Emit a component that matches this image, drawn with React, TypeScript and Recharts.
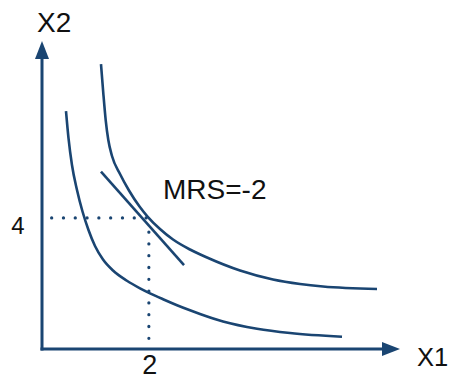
import React from 'react';
import { LineChart, Line, XAxis, YAxis, ReferenceLine, ReferenceDot } from 'recharts';

const NAVY = '#1a4572';
const TEXT = '#111111';
const FONT = '"Liberation Sans", Arial, sans-serif';

// Indifference curve through (2, 4)
const upperCurve = [
  { x: 1.104, y: 8.697 },
  { x: 1.147, y: 7.812 },
  { x: 1.192, y: 6.988 },
  { x: 1.241, y: 6.378 },
  { x: 1.31, y: 5.89 },
  { x: 1.46, y: 5.34 },
  { x: 1.628, y: 4.837 },
  { x: 1.825, y: 4.348 },
  { x: 1.975, y: 4.043 },
  { x: 2.208, y: 3.662 },
  { x: 2.452, y: 3.341 },
  { x: 2.77, y: 3.036 },
  { x: 3.088, y: 2.792 },
  { x: 3.706, y: 2.395 },
  { x: 4.323, y: 2.121 },
  { x: 4.829, y: 1.984 },
  { x: 5.259, y: 1.907 },
  { x: 6.27, y: 1.831 },
];

// Lower indifference curve
const lowerCurve = [
  { x: 0.449, y: 7.263 },
  { x: 0.496, y: 6.439 },
  { x: 0.561, y: 5.615 },
  { x: 0.655, y: 4.852 },
  { x: 0.758, y: 4.196 },
  { x: 0.87, y: 3.631 },
  { x: 0.992, y: 3.143 },
  { x: 1.142, y: 2.731 },
  { x: 1.329, y: 2.395 },
  { x: 1.582, y: 2.09 },
  { x: 1.834, y: 1.852 },
  { x: 2.021, y: 1.7 },
  { x: 2.265, y: 1.52 },
  { x: 2.527, y: 1.337 },
  { x: 2.77, y: 1.181 },
  { x: 2.957, y: 1.068 },
  { x: 3.388, y: 0.839 },
  { x: 4.024, y: 0.619 },
  { x: 4.642, y: 0.488 },
  { x: 5.615, y: 0.372 },
];

// Tangent line (MRS = -2)
const tangentLine = [
  { x: 1.104, y: 5.41 },
  { x: 2.658, y: 2.563 },
];

const guideH = [
  { x: 0.18, y: 4 },
  { x: 2, y: 4 },
];
const guideV = [
  { x: 2, y: 3.57 },
  { x: 2, y: 0.3 },
];

const xTicks = [2];
const yTicks = [4];
const xDomain: [number, number] = [0, 6.7];
const yDomain: [number, number] = [0, 9.4];
const xTitle = 'X1';
const yTitle = 'X2';
const mrsLabel = 'MRS=-2';
const mrsAt = { x: 2.265, y: 4.577 };

const xArrow = (p: any) => {
  const { x1, y1, x2 } = p;
  return (
    <g>
      <line x1={x1 - 1.5} y1={y1} x2={x2 - 17} y2={y1} stroke={NAVY} strokeWidth={3} />
      <polygon points={`${x2},${y1} ${x2 - 18},${y1 - 7} ${x2 - 18},${y1 + 7}`} fill={NAVY} />
    </g>
  );
};

const yArrow = (p: any) => {
  const { x1, y1, y2 } = p;
  return (
    <g>
      <line x1={x1} y1={y1 + 1.5} x2={x1} y2={y2 + 17} stroke={NAVY} strokeWidth={3} />
      <polygon points={`${x1},${y2} ${x1 - 7},${y2 + 18} ${x1 + 7},${y2 + 18}`} fill={NAVY} />
    </g>
  );
};

const textShape = (label: string, dx: number, dy: number, size: number) => (p: any) => (
  <text x={p.cx + dx} y={p.cy + dy} fill={TEXT} fontSize={size} fontFamily={FONT} textAnchor="start">
    {label}
  </text>
);

const XTick = (p: any) => (
  <text x={p.x + 1} y={p.y + 25} fill={TEXT} fontSize={27} fontFamily={FONT} textAnchor="middle">
    {p.payload.value}
  </text>
);

const YTick = (p: any) => (
  <text x={p.x - 24} y={p.y + 16} fill={TEXT} fontSize={24} fontFamily={FONT} textAnchor="middle">
    {p.payload.value}
  </text>
);

export default function App() {
  return (
    <>
      <style>{'body{margin:0}'}</style>
      <LineChart width={449} height={380} margin={{ top: 41, right: 49, left: 0, bottom: 0 }}>
        <XAxis
          type="number"
          dataKey="x"
          domain={xDomain}
          ticks={xTicks}
          axisLine={false}
          tickLine={false}
          tickSize={0}
          tickMargin={0}
          height={31}
          tick={<XTick />}
          allowDataOverflow
        />
        <YAxis
          type="number"
          dataKey="y"
          domain={yDomain}
          ticks={yTicks}
          axisLine={false}
          tickLine={false}
          tickSize={0}
          tickMargin={0}
          width={42}
          tick={<YTick />}
          allowDataOverflow
        />
        <Line
          data={guideH}
          dataKey="y"
          type="linear"
          stroke={NAVY}
          strokeWidth={3.2}
          strokeDasharray="0.1 11.7"
          strokeLinecap="round"
          dot={false}
          activeDot={false}
          isAnimationActive={false}
        />
        <Line
          data={guideV}
          dataKey="y"
          type="linear"
          stroke={NAVY}
          strokeWidth={3.2}
          strokeDasharray="0.1 11.7"
          strokeLinecap="round"
          dot={false}
          activeDot={false}
          isAnimationActive={false}
        />
        <Line
          data={upperCurve}
          dataKey="y"
          type="monotone"
          stroke={NAVY}
          strokeWidth={2.6}
          dot={false}
          activeDot={false}
          isAnimationActive={false}
        />
        <Line
          data={lowerCurve}
          dataKey="y"
          type="monotone"
          stroke={NAVY}
          strokeWidth={2.6}
          dot={false}
          activeDot={false}
          isAnimationActive={false}
        />
        <Line
          data={tangentLine}
          dataKey="y"
          type="linear"
          stroke={NAVY}
          strokeWidth={2.6}
          dot={false}
          activeDot={false}
          isAnimationActive={false}
        />
        <ReferenceLine
          segment={[{ x: xDomain[0], y: yDomain[0] }, { x: xDomain[1], y: yDomain[0] }]}
          ifOverflow="visible"
          shape={xArrow}
        />
        <ReferenceLine
          segment={[{ x: xDomain[0], y: yDomain[0] }, { x: xDomain[0], y: yDomain[1] }]}
          ifOverflow="visible"
          shape={yArrow}
        />
        <ReferenceDot x={mrsAt.x} y={mrsAt.y} r={0} ifOverflow="visible" shape={textShape(mrsLabel, 0, 0, 28)} />
        <ReferenceDot x={xDomain[0]} y={yDomain[1]} r={0} ifOverflow="visible" shape={textShape(yTitle, -5, -9, 28)} />
        <ReferenceDot x={xDomain[1]} y={yDomain[0]} r={0} ifOverflow="visible" shape={textShape(xTitle, 17, 17, 25.5)} />
      </LineChart>
    </>
  );
}
